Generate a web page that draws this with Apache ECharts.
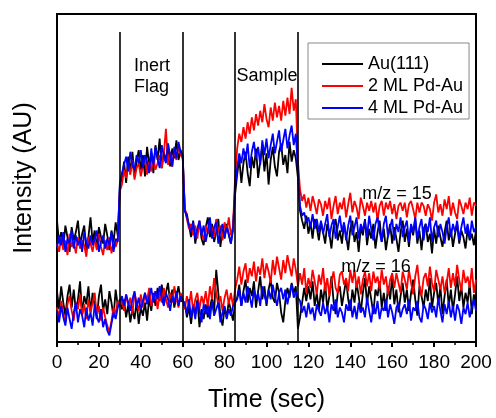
<!DOCTYPE html>
<html>
<head>
<meta charset="utf-8">
<script src="https://cdn.jsdelivr.net/npm/echarts@6/dist/echarts.min.js"></script>
<style>html,body{margin:0;padding:0;background:#fff}#c{width:496px;height:418px}</style>
</head>
<body>
<div id="c"></div>
<script>
// Time axis ticks (sec)
var xTicks = [0, 20, 40, 60, 80, 100, 120, 140, 160, 180, 200];
// Event times (vertical lines)
var eventTimes = [30, 60, 85, 115];
var eventLineTop = 189;
var seriesNames = ['Au(111)', '2 ML Pd-Au', '4 ML Pd-Au'];

// m/z = 15 traces, one value per second, t = 0..200
var au15 = [74,60,67,58,71,64,55,70,62,67,74,59,66,71,56,64,76,61,68,57,70,64,60,72,65,56,68,61,73,65,
 95,
 100,110,97,113,104,116,101,110,117,105,114,101,119,108,115,103,120,111,124,106,116,110,121,107,118,112,123,111,117,
 114,80,
 78,71,64,74,60,68,73,63,59,70,76,64,72,61,67,75,58,69,63,72,65,60,70,
 90,
 102,112,97,109,116,103,95,113,106,118,100,110,120,104,115,96,111,119,107,101,116,121,108,114,103,122,110,117,112,
 100,
 80,74,69,77,66,73,63,75,70,62, 73,67,60,72,66,57,70,75,62,68, 60,72,65,56,69,74,61,67,55,70,
 65,75,59,69,63,72,57,67,74,61, 69,56,65,72,60,70,63,55,67,74, 61,69,58,71,65,75,60,68,56,69,
 72,61,66,54,69,60,71,64,58,67, 74,62,69,58,66,72,60,68,64,57, 69,62,66,59,68];
var pd2_15 = [60,55,64,56,62,53,66,58,61,54,64,57,62,59,52,64,60,55,63,56,66,58,53,62,56,64,54,61,58,62,
 92,
 96,105,100,108,102,111,99,106,109,101,107,112,102,110,104,113,105,109,114,106,115,130,108,116,107,117,111,120,114,
 112,82,
 75,69,72,65,71,63,74,67,62,71,66,73,69,64,75,67,71,62,73,67,76,65,70,
 100,
 118,127,122,131,124,134,127,137,129,139,132,141,134,145,136,131,143,135,146,137,144,135,147,138,149,139,155,141,148,
 110,
 93,86,90,82,88,80,89,84,78,87, 84,77,86,81,88,75,83,89,78,85, 81,88,76,84,91,79,86,82,75,88,
 83,77,85,80,86,79,85,74,83,86, 77,85,81,86,78,84,75,83,85,80, 85,76,84,86,81,75,85,79,85,83,
 77,84,81,74,85,90,79,84,77,87, 81,89,77,85,79,75,87,83,78,85, 81,88,77,85,83];
var pd4_15 = [58,65,59,67,55,63,60,68,57,65,59,63,55,67,61,57,65,59,63,68,55,61,65,57,63,59,67,55,63,61,
 97,
 103,108,113,104,116,108,105,114,109,117,106,114,110,103,118,108,119,112,106,120,113,109,121,114,107,119,112,122,116,
 113,80,
 76,71,67,73,63,69,74,65,71,61,68,76,63,70,73,60,68,72,64,70,66,60,68,
 95,
 106,115,109,118,111,121,106,116,122,112,119,108,123,114,124,112,120,127,115,122,129,116,123,130,118,126,132,120,127,
 105,
 83,77,79,73,76,70,78,69,75,67, 74,66,72,78,64,71,75,63,70,77, 67,73,62,71,77,65,70,76,63,72,
 68,74,64,77,69,62,72,76,67,61, 72,77,64,70,75,62,72,67,76,64, 70,74,61,72,67,76,63,70,75,62,
 72,67,76,61,70,74,64,72,67,60, 70,76,64,72,67,74,62,70,76,66, 72,63,74,67,70];

// m/z = 16 traces
var au16 = [31,20,34,24,16,28,35,21,32,19,26,37,17,28,23,34,18,30,22,14,28,35,19,26,17,31,24,15,32,22,
 26,
 20,26,15,23,12,20,14,25,11,21,16,24,13,27,19,30,22,33,25,35,23,30,36,24,32,21,28,34,25,
 25,
 24,15,21,11,23,17,26,9,20,14,23,15,21,27,18,44,30,16,10,21,15,25,19,13,
 24,
 27,35,22,31,38,24,33,28,37,21,31,40,26,34,22,32,38,27,24,36,30,18,12,25,33,27,36,30,34,
 8,
 15,24,33,25,34,26,37,22,30,19, 32,24,36,20,28,40,25,17,30,34, 22,30,38,26,19,32,24,36,28,18,
 30,39,23,34,26,17,32,28,37,21, 30,19,34,26,40,23,32,18,28,36, 24,32,19,30,38,26,16,34,28,21,
 32,25,39,21,30,36,23,34,17,28, 38,22,32,19,29,40,25,34,21,30, 24,36,17,29,22];
var pd2_16 = [21,15,25,17,12,23,28,19,13,24,20,29,16,23,14,26,18,24,30,16,22,13,21,15,10,6,13,21,17,25,
 22,
 26,19,29,22,27,17,30,24,19,29,21,30,25,33,22,27,31,20,29,24,33,26,21,30,24,34,27,21,30,
 26,
 20,28,22,31,18,26,30,20,28,23,31,21,34,26,39,30,22,28,19,27,32,23,30,22,
 32,
 38,46,35,43,48,36,45,40,49,37,46,41,51,39,48,43,36,50,41,52,45,38,50,42,53,46,40,51,44,
 34,
 42,35,45,30,39,33,44,37,29,41, 35,45,31,39,28,37,43,33,30,41, 43,35,39,31,44,36,44,33,40,29,
 38,43,34,42,31,43,36,40,32,44, 35,40,29,38,42,33,42,36,30,43, 38,32,44,36,29,40,47,34,28,39,
 42,34,46,36,31,44,38,32,40,30, 36,45,33,42,34,47,38,31,44,36, 40,33,45,30,38];
var pd4_16 = [19,12,22,15,10,21,14,8,18,24,12,20,16,9,21,13,18,10,23,15,12,20,9,14,7,4,11,18,14,21,
 24,
 28,22,29,24,19,26,31,21,27,20,25,30,23,28,33,24,31,26,34,27,22,30,26,19,28,24,31,22,28,
 25,
 23,17,26,15,22,14,25,19,12,23,17,22,14,25,16,20,24,12,18,22,14,20,16,22,
 24,
 26,32,22,30,24,34,28,21,32,26,30,22,34,28,24,32,26,35,28,22,30,33,26,32,23,30,35,27,31,
 27,
 25,18,22,15,24,17,21,13,23,19, 16,24,17,22,12,23,19,26,15,21, 18,12,23,19,26,15,22,14,24,18,
 21,15,27,19,12,23,17,25,14,21, 19,26,15,23,18,11,21,24,15,20, 23,17,26,13,21,19,25,15,12,23,
 20,14,24,18,22,15,27,19,12,23, 17,25,15,22,13,23,19,11,21,17, 24,15,21,26,19];

var colors = ['#000000', '#ff0000', '#0000ff'];
var FONT = 'Liberation Sans, Arial, sans-serif';

function pairs(arr) {
  var out = [];
  for (var i = 0; i < arr.length; i++) out.push([i, arr[i]]);
  return out;
}

var traces = [
  [au15, 0], [pd2_15, 1], [pd4_15, 2],
  [au16, 0], [pd2_16, 1], [pd4_16, 2]
];
// draw order: black, red, blue
var order = [0, 3, 1, 4, 2, 5];
var series = order.map(function (k) {
  var t = traces[k];
  return {
    name: seriesNames[t[1]],
    type: 'line',
    data: pairs(t[0]),
    symbol: 'none',
    showSymbol: false,
    animation: false,
    lineStyle: { color: colors[t[1]], width: 1.8 },
    itemStyle: { color: colors[t[1]] },
    z: 2
  };
});
series.push({
  type: 'line',
  data: [],
  silent: true,
  animation: false,
  z: 5,
  markLine: {
    silent: true,
    symbol: ['none', 'none'],
    label: { show: false },
    lineStyle: { color: '#000', width: 1.6, type: 'solid' },
    data: eventTimes.map(function (t) { return [{ coord: [t, 0] }, { coord: [t, eventLineTop] }]; })
  }
});

var chart = echarts.init(document.getElementById('c'), null, { renderer: 'canvas' });
chart.setOption({
  animation: false,
  backgroundColor: '#fff',
  textStyle: { fontFamily: FONT },
  grid: { left: 57, right: 20, top: 14, bottom: 68, show: true, borderColor: '#000', borderWidth: 2, containLabel: false },
  legend: {
    data: seriesNames,
    orient: 'vertical',
    left: 308,
    top: 43,
    padding: [12, 6, 2, 14],
    icon: 'rect',
    itemWidth: 41,
    itemHeight: 2,
    itemGap: 4,
    borderColor: '#888',
    borderWidth: 1,
    backgroundColor: '#fff',
    textStyle: { fontSize: 18, color: '#000', fontFamily: FONT, lineHeight: 18 }
  },
  xAxis: {
    type: 'value', min: xTicks[0], max: xTicks[xTicks.length - 1], interval: xTicks[1] - xTicks[0],
    name: 'Time (sec)', nameLocation: 'middle', nameGap: 46,
    nameTextStyle: { fontSize: 25, color: '#000', fontFamily: FONT },
    axisLine: { show: true, onZero: false, lineStyle: { color: '#000', width: 2 } },
    axisTick: { show: true, inside: false, length: 5, lineStyle: { color: '#000', width: 2 } },
    minorTick: { show: true, splitNumber: 2, length: 3, lineStyle: { color: '#000', width: 1.5 } },
    axisLabel: { fontSize: 19, color: '#000', margin: 11, fontFamily: FONT },
    splitLine: { show: false }
  },
  yAxis: {
    type: 'value', min: 0, max: 200,
    name: 'Intensity (AU)', nameLocation: 'middle', nameGap: 20,
    nameTextStyle: { fontSize: 25, color: '#000', fontFamily: FONT },
    axisLine: { show: true, lineStyle: { color: '#000', width: 2 } },
    axisTick: { show: false },
    axisLabel: { show: false },
    splitLine: { show: false }
  },
  graphic: [
    { type: 'text', x: 134, y: 56, style: { text: 'Inert\nFlag', font: '18px ' + FONT, fill: '#000', textAlign: 'left', textVerticalAlign: 'top', lineHeight: 21 }, z: 10 },
    { type: 'text', x: 267, y: 67, style: { text: 'Sample', font: '18px ' + FONT, fill: '#000', textAlign: 'center', textVerticalAlign: 'top' }, z: 10 },
    { type: 'text', x: 397, y: 185, style: { text: 'm/z = 15', font: '18px ' + FONT, fill: '#000', textAlign: 'center', textVerticalAlign: 'top' }, z: 10 },
    { type: 'text', x: 376, y: 258, style: { text: 'm/z = 16', font: '18px ' + FONT, fill: '#000', textAlign: 'center', textVerticalAlign: 'top' }, z: 10 }
  ],
  series: series
});
</script>
</body>
</html>
